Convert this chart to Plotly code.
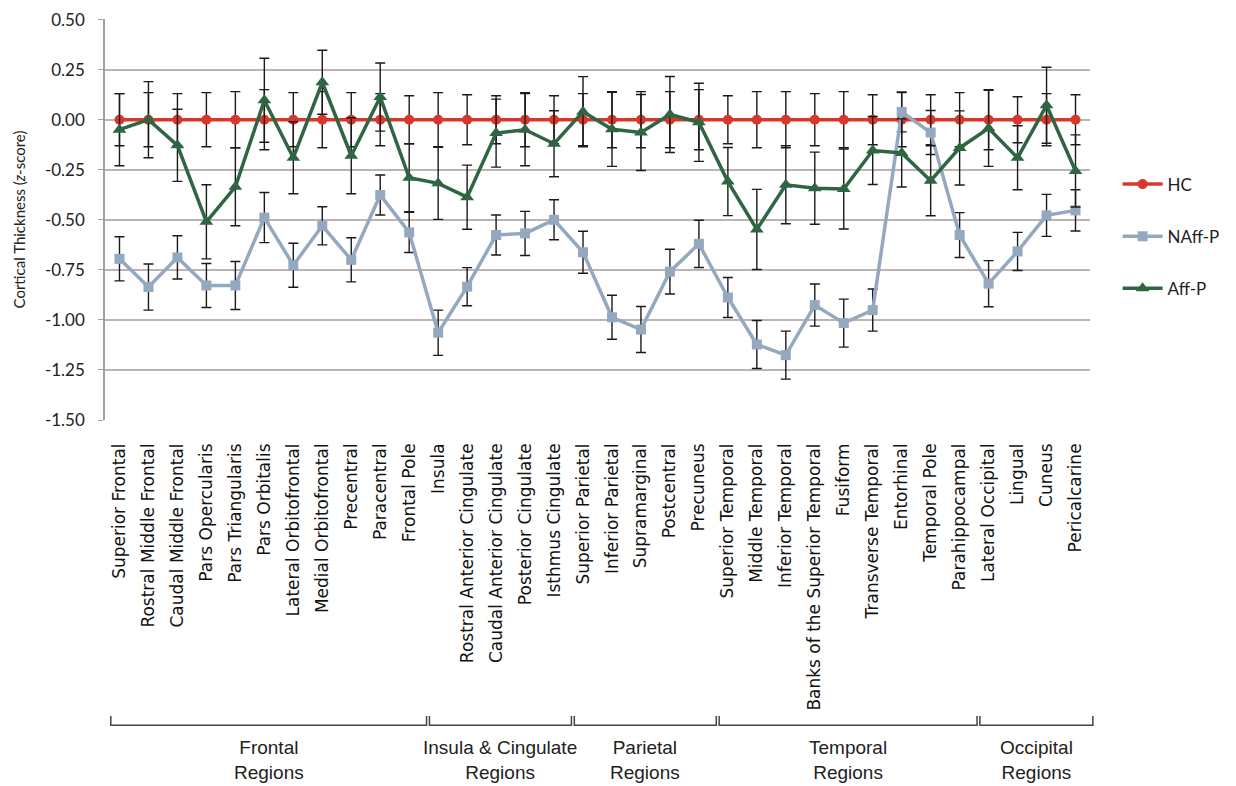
import plotly.graph_objects as go

regions = ["Superior Frontal", "Rostral Middle Frontal", "Caudal Middle Frontal", "Pars Opercularis",
           "Pars Triangularis", "Pars Orbitalis", "Lateral Orbitofrontal", "Medial Orbitofrontal",
           "Precentral", "Paracentral", "Frontal Pole", "Insula", "Rostral Anterior Cingulate",
           "Caudal Anterior Cingulate", "Posterior Cingulate", "Isthmus Cingulate", "Superior Parietal",
           "Inferior Parietal", "Supramarginal", "Postcentral", "Precuneus", "Superior Temporal",
           "Middle Temporal", "Inferior Temporal", "Banks of the Superior Temporal", "Fusiform",
           "Transverse Temporal", "Entorhinal", "Temporal Pole", "Parahippocampal", "Lateral Occipital",
           "Lingual", "Cuneus", "Pericalcarine"]

hc = [0.0, 0.0, 0.0, 0.0, 0.0, 0.0, 0.0, 0.0, 0.0, 0.0, 0.0, 0.0, 0.0, 0.0, 0.0, 0.0, 0.0,
      0.0, 0.0, 0.0, 0.0, 0.0, 0.0, 0.0, 0.0, 0.0, 0.0, 0.0, 0.0, 0.0, 0.0, 0.0, 0.0, 0.0]
hc_err = [0.13, 0.135, 0.13, 0.135, 0.14, 0.15, 0.135, 0.14, 0.135, 0.13, 0.12, 0.135, 0.125, 0.12,
          0.135, 0.12, 0.13, 0.14, 0.14, 0.14, 0.15, 0.12, 0.14, 0.14, 0.13, 0.14, 0.125, 0.135,
          0.125, 0.135, 0.15, 0.115, 0.13, 0.125]

naff = [-0.695, -0.836, -0.688, -0.828, -0.828, -0.489, -0.727, -0.53, -0.70, -0.376, -0.563,
        -1.064, -0.834, -0.576, -0.568, -0.50, -0.662, -0.987, -1.048, -0.759, -0.62, -0.888,
        -1.123, -1.176, -0.926, -1.016, -0.951, 0.039, -0.064, -0.576, -0.819, -0.658, -0.478, -0.453]
naff_err = [0.11, 0.115, 0.108, 0.11, 0.12, 0.125, 0.11, 0.095, 0.11, 0.10, 0.10, 0.113, 0.095,
            0.10, 0.11, 0.10, 0.105, 0.11, 0.115, 0.112, 0.118, 0.10, 0.12, 0.12, 0.105, 0.12,
            0.105, 0.10, 0.11, 0.112, 0.115, 0.095, 0.105, 0.103]

aff = [-0.05, 0.0, -0.128, -0.51, -0.335, 0.097, -0.19, 0.187, -0.18, 0.113, -0.29, -0.318,
       -0.387, -0.067, -0.05, -0.12, 0.04, -0.048, -0.064, 0.026, -0.013, -0.309, -0.548, -0.325,
       -0.342, -0.346, -0.154, -0.166, -0.305, -0.141, -0.043, -0.19, 0.072, -0.256]
aff_err = [0.18, 0.19, 0.18, 0.185, 0.195, 0.21, 0.18, 0.16, 0.19, 0.17, 0.17, 0.18, 0.16, 0.17,
           0.18, 0.165, 0.175, 0.185, 0.19, 0.19, 0.195, 0.17, 0.2, 0.195, 0.18, 0.2, 0.17, 0.17,
           0.175, 0.185, 0.19, 0.16, 0.19, 0.18]

group_labels = ["Frontal<br>Regions", "Insula & Cingulate<br>Regions", "Parietal<br>Regions",
                "Temporal<br>Regions", "Occipital<br>Regions"]
group_first = [0, 11, 16, 21, 30]
group_last = [10, 15, 20, 29, 33]

y_ticks = [0.5, 0.25, 0.0, -0.25, -0.5, -0.75, -1.0, -1.25, -1.5]

x = list(range(len(regions)))
n = len(regions)

fig = go.Figure()

series = [
    ("HC", hc, hc_err, "#d8372b", "circle", 10),
    ("NAff-P", naff, naff_err, "#94a9bf", "square", 10),
    ("Aff-P", aff, aff_err, "#2f6543", "triangle-up", 12),
]
for name, vals, errs, color, sym, size in series:
    fig.add_trace(go.Scatter(
        x=x, y=vals, name=name, mode="lines+markers", legendgroup=name,
        line=dict(color=color, width=3.5),
        marker=dict(symbol=sym, size=size, color=color),
        error_y=dict(type="data", array=errs, visible=True, color="#1a1a1a", thickness=1.4, width=5),
    ))

# brackets and group labels
shapes = []
annotations = []
to_paper = lambda d: (d + 0.5) / n
yb, yt = -0.761, -0.738
for lab, f, l in zip(group_labels, group_first, group_last):
    x0 = to_paper(f - 0.3)
    x1 = to_paper(l + 0.6)
    shapes.append(dict(type="path", xref="paper", yref="paper",
                       path=f"M {x0} {yt} L {x0} {yb} L {x1} {yb} L {x1} {yt}",
                       line=dict(color="#444444", width=1.5)))
    annotations.append(dict(xref="paper", yref="paper", x=(x0 + x1) / 2, y=-0.848,
                            text=lab, showarrow=False, xanchor="center", yanchor="middle",
                            font=dict(family="Liberation Sans, Arial", size=19, color="#222222")))

fig.update_layout(
    width=1228, height=778,
    margin=dict(l=97, r=137, t=11, b=366),
    paper_bgcolor="white", plot_bgcolor="white",
    showlegend=True,
    legend=dict(x=1.028, y=0.632, xanchor="left", yanchor="top", tracegroupgap=27,
                font=dict(family="Lato, Open Sans", size=17, color="#222222"),
                itemwidth=40, bgcolor="rgba(0,0,0,0)"),
    shapes=shapes, annotations=annotations,
    xaxis=dict(range=[-0.5, n - 0.5], tickmode="array", tickvals=x, ticktext=regions,
               tickangle=-90, showgrid=False, zeroline=False, showline=False, ticks="",
               automargin=False, ticklabelstandoff=19,
               tickfont=dict(family="DejaVu Sans", size=17, color="#111111")),
    yaxis=dict(range=[-1.5, 0.503], tickmode="array", tickvals=y_ticks,
               ticktext=[f"{v:.2f}" for v in y_ticks], automargin=False,
               ticklabeloverflow="allow",
               showgrid=True, gridcolor="#bdb3b3", gridwidth=1.5, zeroline=False,
               showline=True, linecolor="#a59e9e", linewidth=1.5,
               ticks="outside", ticklen=5, tickcolor="#a59e9e", ticklabelstandoff=10,
               tickfont=dict(family="Lato, Open Sans", size=17, color="#222222"),
               title=dict(text="Cortical Thickness (<i>z</i>-score)", standoff=16,
                          font=dict(family="Lato, Open Sans", size=15, color="#222222"))),
)

fig.write_html("out.html")
